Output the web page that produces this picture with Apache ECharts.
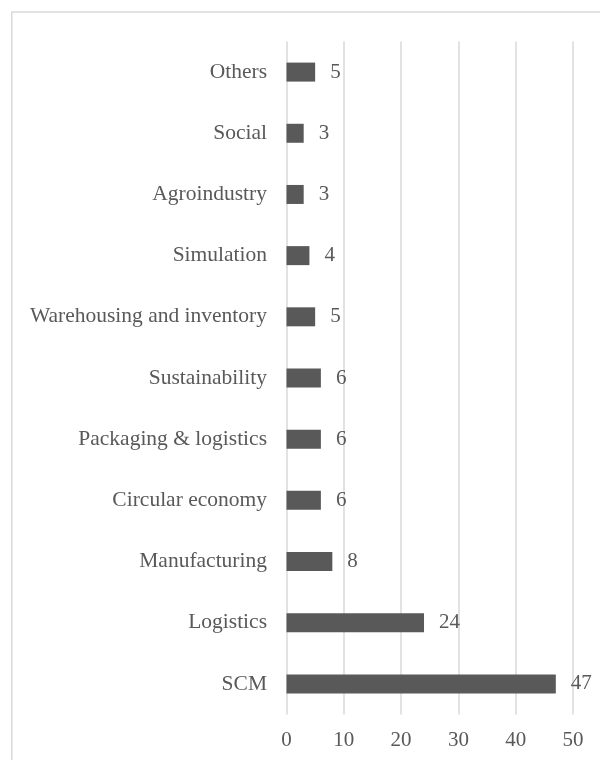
<!DOCTYPE html>
<html>
<head>
<meta charset="utf-8">
<script src="https://cdn.jsdelivr.net/npm/echarts@6/dist/echarts.min.js"></script>
<style>
html,body{margin:0;padding:0;background:#fff;}
#c{width:600px;height:760px;}
</style>
</head>
<body>
<div id="c"></div>
<script>
const categories = ["SCM","Logistics","Manufacturing","Circular economy","Packaging & logistics","Sustainability","Warehousing and inventory","Simulation","Agroindustry","Social","Others"];
const values = [47,24,8,6,6,6,5,4,3,3,5];
const xTicks = {min:0, max:50, interval:10};

const FONT = "'Liberation Serif','Times New Roman',serif";
const TXT = '#595959';
const chart = echarts.init(document.getElementById('c'), null, {renderer:'canvas'});
chart.setOption({
  animation:false,
  backgroundColor:'#fff',
  graphic:[{
    type:'rect',
    shape:{x:11.75,y:12,width:700,height:800},
    style:{fill:'none',stroke:'#d9d9d9',lineWidth:1.5},
    silent:true
  }],
  grid:{left:286.5,right:27,top:41.5,bottom:45.5,containLabel:false},
  xAxis:{
    type:'value',min:xTicks.min,max:xTicks.max,interval:xTicks.interval,
    axisLine:{show:false},axisTick:{show:false},
    splitLine:{show:true,lineStyle:{color:'#d9d9d9',width:1.5}},
    axisLabel:{fontFamily:FONT,fontSize:21,color:TXT,margin:15}
  },
  yAxis:{
    type:'category',data:categories,
    axisLine:{show:false},axisTick:{show:false},
    axisLabel:{fontFamily:FONT,fontSize:21.5,color:TXT,margin:19.5}
  },
  series:[{
    type:'bar',data:values,barWidth:19,
    itemStyle:{color:'#595959'},
    label:{show:true,position:'right',distance:15,fontFamily:FONT,fontSize:21,color:TXT}
  }]
});
</script>
</body>
</html>
